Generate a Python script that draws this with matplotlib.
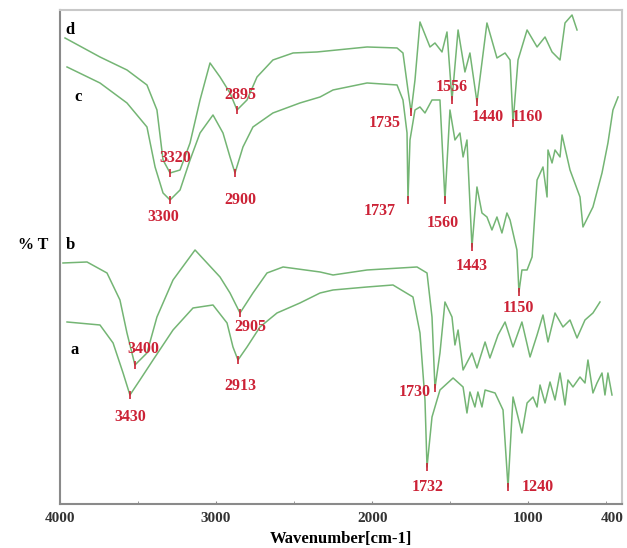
import matplotlib
matplotlib.use("Agg")
import matplotlib.pyplot as plt
import matplotlib.transforms as mtransforms
import numpy as np

# FTIR traces: wavenumber (cm-1) and stacked %T (arbitrary units)
d_wn = [3968, 3744, 3571, 3443, 3379, 3340, 3295, 3231, 3167, 3103, 3039, 2975, 2911, 2866,
        2802, 2738, 2636, 2507, 2354, 2033, 1841, 1803, 1771, 1751, 1726, 1694, 1630, 1598,
        1553, 1521, 1489, 1450, 1406, 1374, 1329, 1265, 1201, 1149, 1117, 1098, 1066, 1008,
        944, 893, 848, 797, 765, 720, 688]
d_t = [466, 447, 434, 419, 394, 344, 331, 334, 361, 404, 441, 427, 411, 394,
       404, 427, 444, 451, 452, 457, 456, 451, 414, 392, 424, 482, 457, 461,
       452, 472, 404, 474, 432, 451, 402, 481, 446, 451, 444, 381, 444, 474,
       457, 467, 452, 444, 481, 489, 474]

c_wn = [3955, 3744, 3571, 3443, 3391, 3340, 3295, 3231, 3167, 3103, 3020, 2956, 2911, 2879,
        2828, 2764, 2636, 2463, 2334, 2251, 2033, 1841, 1803, 1777, 1771, 1758, 1726, 1694,
        1662, 1617, 1566, 1534, 1502, 1470, 1438, 1418, 1393, 1361, 1329, 1297, 1265, 1233,
        1201, 1169, 1137, 1117, 1073, 1060, 1041, 1008, 976, 944, 906, 880, 874, 848, 829,
        797, 784, 733, 669, 650, 586, 528, 490, 458, 425]
c_t = [437, 421, 401, 377, 337, 311, 304, 314, 344, 371, 389, 371, 347, 331,
       357, 377, 391, 401, 407, 414, 421, 419, 404, 371, 304, 364, 394, 397,
       391, 404, 404, 304, 394, 364, 371, 347, 364, 257, 317, 291, 287, 274,
       287, 271, 291, 284, 254, 212, 234, 234, 247, 324, 337, 307, 354, 341, 354,
       347, 369, 334, 307, 277, 297, 331, 361, 394, 407]

b_wn = [3981, 3827, 3699, 3616, 3571, 3520, 3443, 3379, 3276, 3135, 3058, 2975, 2911, 2847,
        2764, 2674, 2571, 2334, 2251, 2033, 1713, 1649, 1617, 1598, 1566, 1534, 1489, 1470,
        1450, 1418, 1361, 1329, 1277, 1246, 1194, 1149, 1098, 1041, 989, 944, 906, 874, 829,
        778, 733, 688, 637, 586, 541]
b_t = [241, 242, 231, 204, 171, 139, 151, 187, 224, 254, 241, 227, 211, 191,
       211, 231, 237, 232, 229, 234, 237, 231, 187, 116, 151, 202, 187, 159,
       174, 134, 151, 136, 162, 146, 169, 182, 157, 182, 147, 169, 189, 162, 191,
       177, 184, 166, 184, 191, 202]

a_wn = [3955, 3744, 3660, 3596, 3552, 3488, 3404, 3276, 3148, 3020, 2930, 2892, 2860, 2802,
        2719, 2610, 2463, 2334, 2251, 2033, 1867, 1739, 1694, 1662, 1649, 1617, 1566, 1482,
        1418, 1393, 1374, 1342, 1323, 1297, 1277, 1213, 1162, 1130, 1098, 1066, 1041, 1008,
        970, 944, 925, 893, 861, 829, 797, 765, 746, 714, 669, 637, 618, 586, 560, 528, 509,
        490, 464]
a_t = [182, 179, 161, 131, 109, 124, 144, 174, 196, 199, 181, 157, 144, 157,
       177, 191, 201, 211, 214, 217, 219, 207, 171, 104, 37, 87, 114, 126,
       117, 91, 112, 97, 112, 97, 114, 111, 94, 17, 107, 87, 71, 101,
       107, 97, 119, 101, 122, 104, 131, 99, 124, 117, 127, 121, 144, 111, 121, 131, 109,
       131, 109]

# peak annotations: (label, text x, text y, marked peak x, marked peak y)
peaks = [
    ("2895", 2847, 409, 2866, 394),
    ("3320", 3263, 346, 3295, 331),
    ("3300", 3340, 287, 3295, 304),
    ("2900", 2847, 304, 2879, 331),
    ("1735", 1918, 381, 1751, 392),
    ("1737", 1950, 293, 1771, 304),
    ("1556", 1489, 417, 1489, 404),
    ("1440", 1258, 387, 1329, 402),
    ("1160", 1008, 387, 1098, 381),
    ("1560", 1547, 281, 1534, 304),
    ("1443", 1361, 238, 1361, 257),
    ("1150", 1066, 196, 1060, 212),
    ("1730", 1726, 112, 1598, 116),
    ("1732", 1643, 17, 1649, 37),
    ("1240", 938, 17, 1130, 17),
    ("3400", 3468, 155, 3520, 139),
    ("2905", 2783, 177, 2847, 191),
    ("3430", 3552, 87, 3552, 109),
    ("2913", 2847, 118, 2860, 144),
]

curve_names = ["d", "c", "b", "a"]
curve_name_pos = [(3936, 474), (3885, 407), (3936, 259), (3904, 154)]

serif = ["Liberation Serif", "DejaVu Serif"]
green = "#74b574"
red = "#cc2236"

fig = plt.figure(figsize=(6.27, 5.48), dpi=100)
ax = fig.add_axes([0.0957, 0.0803, 0.8963, 0.9015])

for wn, t in [(d_wn, d_t), (c_wn, c_t), (b_wn, b_t), (a_wn, a_t)]:
    ax.plot(wn, t, color=green, lw=1.1)

for lab, tx, ty, px, py in peaks:
    ax.plot([px], [py], marker="|", color=red, ms=6, mew=1.2)
    ax.text(tx, ty, lab, color=red, fontsize=11.5, fontweight="bold",
            family=serif, ha="center", va="center")

for name, (x, y) in zip(curve_names, curve_name_pos):
    ax.text(x, y, name, color="black", fontsize=12, fontweight="bold",
            family=serif, ha="center", va="center")

ax.set_xlim(4000, 400)
ax.set_ylim(0, 494)
ax.set_yticks([])
ax.set_xticks([4000, 3000, 2000, 1000, 400])
ax.set_xticks([3500, 2500, 1500, 500], minor=True)
ax.tick_params(axis="x", direction="in", length=2, color="#888888", pad=6)
ax.tick_params(axis="x", which="minor", direction="in", length=2, color="#888888")
for lab in ax.get_xticklabels():
    lab.set_family(serif)
    lab.set_fontweight("bold")
    lab.set_fontsize(11)
    lab.set_color("#333333")
# keep the last tick label ("400") inside the figure
last = ax.get_xticklabels()[-1]
last.set_transform(last.get_transform() + mtransforms.ScaledTranslation(-0.1, 0, fig.dpi_scale_trans))

for side in ["left", "bottom"]:
    ax.spines[side].set_color("#8a8a8a")
    ax.spines[side].set_linewidth(1.5)
for side in ["top", "right"]:
    ax.spines[side].set_color("#c8c8c8")
    ax.spines[side].set_linewidth(1.5)

ax.set_xlabel("Wavenumber[cm-1]", family=serif, fontweight="bold", fontsize=12, labelpad=4)
fig.text(33 / 627, 1 - 245 / 548, "% T", family=serif, fontweight="bold", fontsize=11.5,
         ha="center", va="center")

fig.savefig("out.png", dpi=100)
